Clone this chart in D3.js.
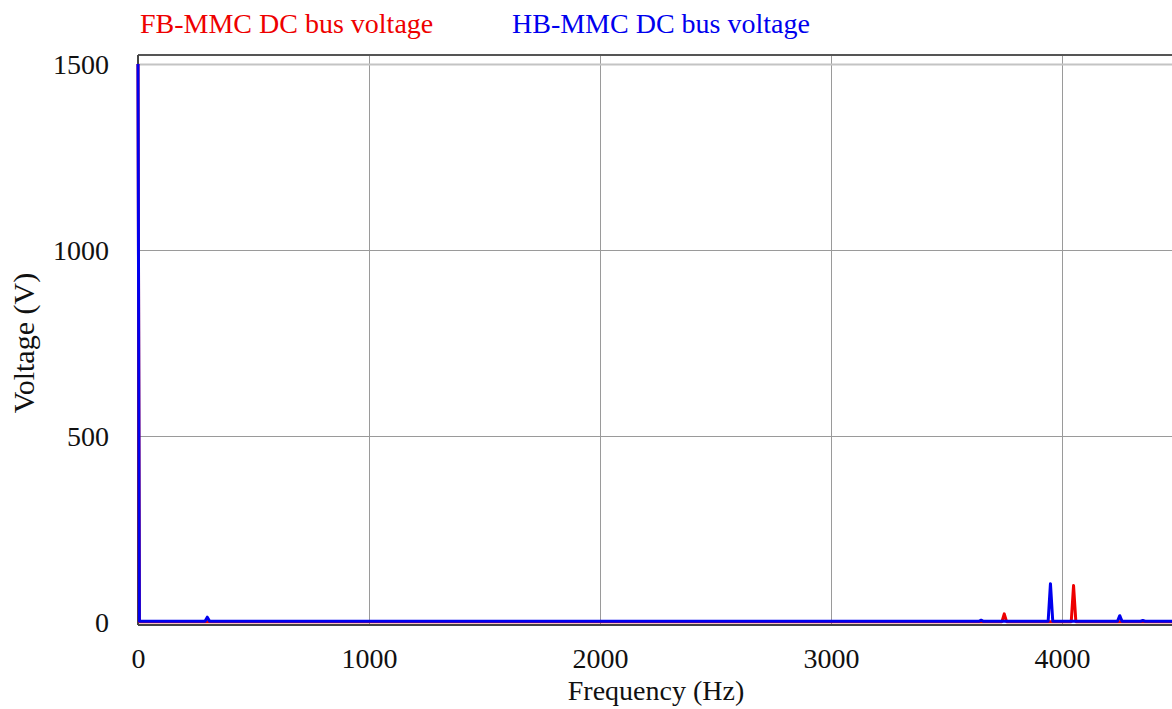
<!DOCTYPE html>
<html>
<head>
<meta charset="utf-8">
<script src="https://cdn.jsdelivr.net/npm/d3@7"></script>
<style>
  html, body { margin: 0; padding: 0; background: #ffffff; }
  svg { display: block; }
  text { font-family: "Liberation Serif", "Times New Roman", serif; fill: #111; }
</style>
</head>
<body>
<svg id="chart" width="1172" height="709"></svg>
<script>
// Spectrum of the DC bus voltage: [frequency (Hz), amplitude (V)]
const fbFreq = [0, 6, 3740, 3750, 3760, 4040, 4050, 4060, 4500];
const fbVolt = [1500, 1, 1, 22, 1, 1, 98, 1, 1];

const hbFreq = [0, 6, 290, 300, 310, 3640, 3650, 3660, 3940, 3950, 3960, 4240, 4250, 4260, 4340, 4350, 4360, 4500];
const hbVolt = [1500, 2, 2, 13, 2, 2, 5, 2, 2, 103, 2, 2, 17, 2, 2, 4, 2, 2];

const xTicks = [0, 1000, 2000, 3000, 4000];
const yTicks = [0, 500, 1000, 1500];

const seriesNames = ["FB-MMC DC bus voltage", "HB-MMC DC bus voltage"];
const seriesColors = ["#ee0000", "#0000ee"];

const svg = d3.select("#chart");
const plotLeft = 138, plotTop = 55, plotBottom = 625, plotRight = 1293;
const fontSize = 28;

const x = d3.scaleLinear().domain([0, 5000]).range([plotLeft, plotRight]);
const y = d3.scaleLinear().domain([-8, 1524]).range([plotBottom, plotTop]);

// Gridlines
const grid = svg.append("g");
grid.selectAll("line.gx").data(xTicks.filter(d => d > 0)).join("line")
  .attr("x1", d => Math.round(x(d)) + 0.5).attr("x2", d => Math.round(x(d)) + 0.5)
  .attr("y1", plotTop).attr("y2", plotBottom)
  .attr("stroke", "#9a9a9a").attr("stroke-width", 1);
grid.selectAll("line.gy").data(yTicks.filter(d => d > 0)).join("line")
  .attr("x1", plotLeft).attr("x2", 1172)
  .attr("y1", d => Math.round(y(d)) + 0.5).attr("y2", d => Math.round(y(d)) + 0.5)
  .attr("stroke", d => d === 1500 ? "#c4c4c4" : "#9a9a9a").attr("stroke-width", d => d === 1500 ? 2 : 1);

// Frame
svg.append("line").attr("x1", plotLeft).attr("x2", 1172).attr("y1", plotTop).attr("y2", plotTop)
  .attr("stroke", "#555").attr("stroke-width", 2);
svg.append("line").attr("x1", plotLeft).attr("x2", 1172).attr("y1", plotBottom).attr("y2", plotBottom)
  .attr("stroke", "#444").attr("stroke-width", 2);
svg.append("line").attr("x1", plotLeft).attr("x2", plotLeft).attr("y1", plotTop).attr("y2", plotBottom)
  .attr("stroke", "#444").attr("stroke-width", 2);

// Axes (labels only)
const xAxis = d3.axisBottom(x).tickValues(xTicks).tickSize(0).tickPadding(0).tickFormat(d3.format("d"));
const gx = svg.append("g").attr("transform", `translate(0,${plotBottom})`).call(xAxis);
gx.select(".domain").remove();
gx.selectAll("text").attr("font-size", fontSize).attr("dy", null).attr("y", 43)
  .style("font-family", "Liberation Serif").attr("fill", "#111");

const yAxis = d3.axisLeft(y).tickValues(yTicks).tickSize(0).tickPadding(0).tickFormat(d3.format("d"));
const gy = svg.append("g").attr("transform", `translate(${plotLeft},0)`).call(yAxis);
gy.select(".domain").remove();
gy.selectAll("text").attr("font-size", fontSize).attr("x", -29).attr("dy", "0.35em")
  .style("font-family", "Liberation Serif").attr("fill", "#111");

// Axis titles
svg.append("text").attr("x", 656).attr("y", 700).attr("text-anchor", "middle")
  .attr("font-size", fontSize).text("Frequency (Hz)");
svg.append("text").attr("transform", "translate(34,343) rotate(-90)").attr("text-anchor", "middle")
  .attr("font-size", 30).text("Voltage (V)");

// Traces
const line = d3.line().x(d => x(d[0])).y(d => y(d[1]));
const plot = svg.append("g");
const fbData = fbFreq.map((f, i) => [f, fbVolt[i]]);
const hbData = hbFreq.map((f, i) => [f, hbVolt[i]]);
plot.append("path").datum(fbData).attr("d", line).attr("fill", "none")
  .attr("stroke", seriesColors[0]).attr("stroke-width", 3).attr("stroke-linejoin", "round");
plot.append("path").datum(hbData).attr("d", line).attr("fill", "none")
  .attr("stroke", seriesColors[1]).attr("stroke-width", 3).attr("stroke-linejoin", "round");

// Legend
const legendX = [140, 512];
seriesNames.forEach((name, i) => {
  svg.append("text").attr("x", legendX[i]).attr("y", 33).attr("font-size", fontSize)
    .style("fill", seriesColors[i]).text(name);
});
</script>
</body>
</html>
